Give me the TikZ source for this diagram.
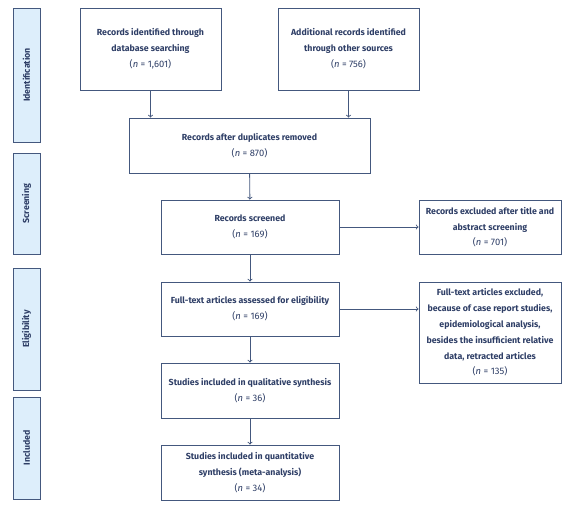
\documentclass[tikz,border=0pt]{standalone}
\usepackage{fontspec}
\setmainfont{Fira Sans}
\usepackage{tikz}
\definecolor{edge}{HTML}{44587E}
\definecolor{ink}{HTML}{2E3E66}
\definecolor{phasefill}{HTML}{DDEEFB}
\tikzset{
	box/.style={draw=edge, line width=0.9pt, text=ink, align=center, inner sep=2pt, font=\fontsize{8.8}{16}\selectfont\bfseries},
	phase/.style={draw=edge, fill=phasefill, line width=0.9pt, text=ink, rotate=90, inner sep=0pt, minimum height=27pt, font=\fontsize{8.8}{10}\selectfont\bfseries},
	link/.style={->, draw=edge, line width=0.9pt}
}
\newcommand{\cnt}[1]{\fontsize{9.4}{16}\selectfont\mdseries(\textit{n} = #1)}
\begin{document}
\begin{tikzpicture}[x=1pt, y=-1pt]
	\useasboundingbox (0,0) rectangle (570,505);
	\node (ident) at (26.5,75) [phase, minimum width=134pt] {Identification};
	\node (screen) at (26.5,203.5) [phase, minimum width=101pt] {Screening};
	\node (elig) at (26.5,329) [phase, minimum width=122pt] {Eligibility};
	\node (incl) at (26.5,448) [phase, minimum width=102pt] {Included};
		\node (db) at (150.5,49) [box, minimum width=141pt, minimum height=82pt] {Records identified through\\database searching\\\cnt{1,601}};
		\node (other) at (348.5,49) [box, minimum width=141pt, minimum height=82pt] {Additional records identified\\through other sources\\\cnt{756}};
		\node (dup) at (249.5,145.5) [box, minimum width=241pt, minimum height=55pt] {Records after duplicates removed\\\cnt{870}};
		\node (scr) at (250,227) [box, minimum width=178pt, minimum height=54pt] {Records screened\\\cnt{169}};
		\node (exc1) at (490,227) [box, minimum width=142pt, minimum height=54pt] {Records excluded after title and\\abstract screening\\[-1pt]\cnt{701}};
		\node (full) at (250,309) [box, minimum width=178pt, minimum height=54pt] {Full-text articles assessed for eligibility\\\cnt{169}};
		\node (exc2) at (490,332.5) [box, minimum width=142pt, minimum height=101pt] {Full-text articles excluded,\\because of case report studies,\\epidemiological analysis,\\besides the insufficient relative\\data, retracted articles\\[-1pt]\cnt{135}};
		\node (qual) at (250,390.5) [box, minimum width=178pt, minimum height=55pt] {Studies included in qualitative synthesis\\\cnt{36}};
		\node (quant) at (250,472.5) [box, minimum width=178pt, minimum height=55pt] {Studies included in quantitative\\synthesis (meta-analysis)\\\cnt{34}};
	\draw[link] (db.south) to (db.south |- dup.north);
	\draw[link] (other.south) to (other.south |- dup.north);
	\draw[link] (dup) to (scr);
	\draw[link] (scr) to (exc1);
	\draw[link] (scr) to (full);
	\draw[link] (full) to (exc2.west |- full);
	\draw[link] (full) to (qual);
	\draw[link] (qual) to (quant);
\end{tikzpicture}
\end{document}
